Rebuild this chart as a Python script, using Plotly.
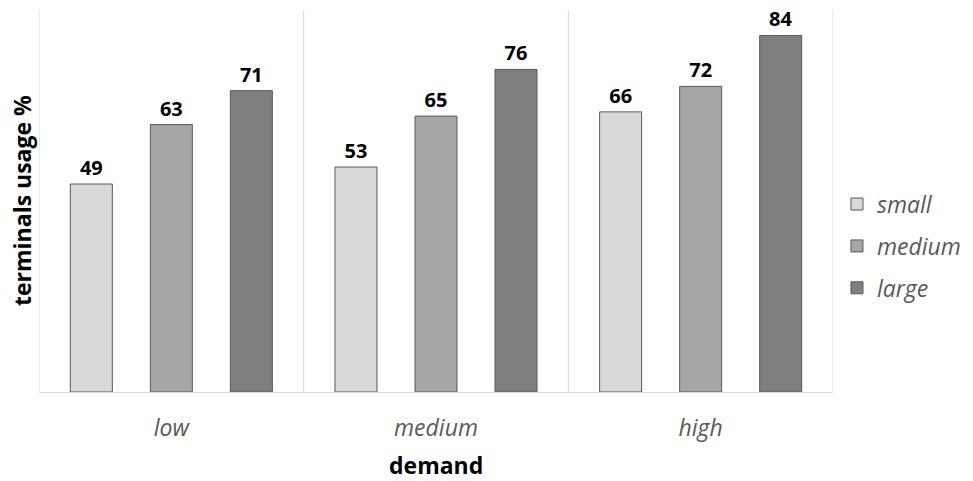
import plotly.graph_objects as go

categories = ["low", "medium", "high"]
series_names = ["small", "medium", "large"]
small_vals = [49, 53, 66]
medium_vals = [63, 65, 72]
large_vals = [71, 76, 84]
colors = ["#d9d9d9", "#a6a6a6", "#7f7f7f"]

values = [small_vals, medium_vals, large_vals]

fig = go.Figure()
for name, vals, col in zip(series_names, values, colors):
    fig.add_trace(go.Bar(
        name=name, x=categories, y=vals,
        marker=dict(color=col, line=dict(color="#595959", width=1)),
        text=[str(v) for v in vals], textposition="outside",
        textfont=dict(family="Open Sans", size=20, color="#000000", weight="bold"),
        cliponaxis=False, legendgroup=name,
    ))

shapes = []
for i in range(len(categories) + 1):
    shapes.append(dict(type="line", xref="x", yref="paper", x0=i - 0.5, x1=i - 0.5,
                       y0=0, y1=1, line=dict(color="#d9d9d9", width=1), layer="below"))

annotations = [
    dict(text="terminals usage %", xref="paper", yref="paper", x=0, y=0.5,
         xanchor="center", yanchor="middle", xshift=-17, textangle=-90, showarrow=False,
         font=dict(family="Open Sans", size=23, color="#000000", weight="bold")),
    dict(text="demand", xref="paper", yref="paper", x=0.5, y=0,
         xanchor="center", yanchor="middle", yshift=-73, showarrow=False,
         font=dict(family="Open Sans", size=23, color="#000000", weight="bold")),
]

fig.update_layout(
    width=973, height=481,
    margin=dict(l=39, r=140, t=10, b=89, autoexpand=False),
    plot_bgcolor="white", paper_bgcolor="white",
    barmode="group", bargap=0.093, bargroupgap=0.475,
    shapes=shapes, annotations=annotations,
    showlegend=True,
    legend=dict(x=1.005, y=0.382, xanchor="left", yanchor="middle",
                font=dict(family="Open Sans", size=23, color="#595959", style="italic"),
                tracegroupgap=9, traceorder="grouped"),
    xaxis=dict(range=[-0.5, 2.5], showgrid=False, showline=True, linecolor="#d9d9d9",
               tickfont=dict(family="Open Sans", size=23, color="#595959", style="italic"),
               ticks="outside", ticklen=15, tickcolor="rgba(0,0,0,0)", automargin=False),
    yaxis=dict(range=[0, 90], showgrid=False, showticklabels=False, zeroline=False,
               automargin=False),
)

fig.write_html("out.html", config={"displayModeBar": False},
               post_script="document.body.style.margin='0px';document.body.style.overflow='hidden';")
